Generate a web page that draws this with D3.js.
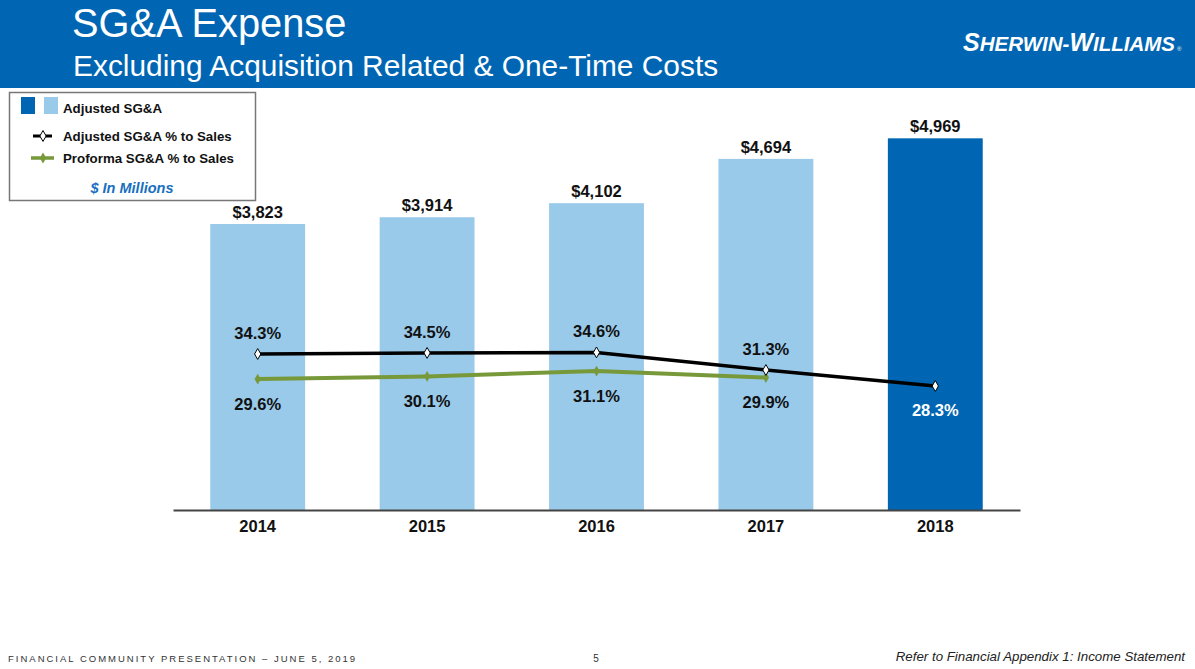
<!DOCTYPE html>
<html>
<head>
<meta charset="utf-8">
<script src="https://cdn.jsdelivr.net/npm/d3@7"></script>
<style>
  body { margin: 0; background: #fff; }
  svg { display: block; font-family: "Liberation Sans", Arial, sans-serif; }
</style>
</head>
<body>
<div class="chart"></div>
<script>
// chart data
var years = ["2014", "2015", "2016", "2017", "2018"];
var sgaValues = [3823, 3914, 4102, 4694, 4969];
var sgaLabels = ["$3,823", "$3,914", "$4,102", "$4,694", "$4,969"];
var adjustedPct = [34.3, 34.5, 34.6, 31.3, 28.3];
var proformaYears = ["2014", "2015", "2016", "2017"];
var proformaPct = [29.6, 30.1, 31.1, 29.9];

var W = 1195, H = 669;
var lightBlue = "#99caea", darkBlue = "#0066b3", green = "#77993a";

var svg = d3.select(".chart").append("svg")
  .attr("width", W)
  .attr("height", H);

// header band
svg.append("rect").attr("x", 0).attr("y", 0).attr("width", W).attr("height", 88).attr("fill", darkBlue);
svg.append("text").attr("x", 72).attr("y", 37).attr("fill", "#fff")
  .attr("font-size", 39.8).text("SG&A Expense");
svg.append("text").attr("x", 73).attr("y", 76).attr("fill", "#fff")
  .attr("font-size", 29.9).text("Excluding Acquisition Related & One-Time Costs");

// logo text
var logo = svg.append("text").attr("x", 1175).attr("y", 51).attr("text-anchor", "end")
  .attr("fill", "#fff").attr("font-weight", "bold").attr("font-style", "italic");
logo.append("tspan").attr("font-size", 25).text("S");
logo.append("tspan").attr("font-size", 20.5).text("HERWIN-");
logo.append("tspan").attr("font-size", 25).text("W");
logo.append("tspan").attr("font-size", 20.5).text("ILLIAMS");
svg.append("text").attr("x", 1177).attr("y", 51).attr("fill", "#fff")
  .attr("font-size", 6).text("®");

// scales
var x = d3.scaleBand().domain(years).range([173, 1020]).paddingInner(0.44).paddingOuter(0.22);
var y = d3.scaleLinear().domain([0, 5000]).range([510, 136]);
var yp = d3.scaleLinear().domain([28.3, 34.3]).range([386, 354]);

// bars
svg.selectAll("rect.bar").data(sgaValues).enter().append("rect")
  .attr("class", "bar")
  .attr("x", function(d, i) { return x(years[i]); })
  .attr("y", function(d) { return y(d); })
  .attr("width", x.bandwidth())
  .attr("height", function(d) { return y(0) - y(d); })
  .attr("fill", function(d, i) { return i == 4 ? darkBlue : lightBlue; });

svg.selectAll("text.val").data(sgaValues).enter().append("text")
  .attr("class", "val")
  .attr("x", function(d, i) { return x(years[i]) + x.bandwidth() / 2; })
  .attr("y", function(d) { return y(d) - 6; })
  .attr("text-anchor", "middle").attr("font-weight", "bold").attr("font-size", 16.5)
  .attr("fill", "#111")
  .text(function(d, i) { return sgaLabels[i]; });

// x axis
var axis = svg.append("g").attr("transform", "translate(0,510)")
  .call(d3.axisBottom(x).tickSize(0).tickPadding(10));
axis.select(".domain").attr("stroke", "#444").attr("stroke-width", 2);
axis.selectAll("text").attr("font-size", 16.5).attr("font-weight", "bold").attr("fill", "#111")
  .attr("font-family", "Liberation Sans, Arial, sans-serif");

function cx(yr) { return x(yr) + x.bandwidth() / 2; }
var diamond = d3.symbol().type(d3.symbolDiamond).size(34);

// proforma line (green)
var line = d3.line().x(function(d) { return cx(d[0]); }).y(function(d) { return yp(d[1]); });
var proData = proformaYears.map(function(yr, i) { return [yr, proformaPct[i]]; });
svg.append("path").datum(proData).attr("d", line)
  .attr("fill", "none").attr("stroke", green).attr("stroke-width", 4);
svg.selectAll("path.gm").data(proData).enter().append("path")
  .attr("class", "gm").attr("d", diamond)
  .attr("transform", function(d) { return "translate(" + cx(d[0]) + "," + yp(d[1]) + ")"; })
  .attr("fill", green);

// adjusted line (black)
var adjData = years.map(function(yr, i) { return [yr, adjustedPct[i]]; });
svg.append("path").datum(adjData).attr("d", line)
  .attr("fill", "none").attr("stroke", "#000").attr("stroke-width", 3.5);
svg.selectAll("path.bm").data(adjData).enter().append("path")
  .attr("class", "bm").attr("d", diamond)
  .attr("transform", function(d) { return "translate(" + cx(d[0]) + "," + yp(d[1]) + ")"; })
  .attr("fill", "#fff").attr("stroke", "#000").attr("stroke-width", 1);

// percent labels
svg.selectAll("text.adj").data(adjData).enter().append("text")
  .attr("class", "adj")
  .attr("x", function(d) { return cx(d[0]); })
  .attr("y", function(d, i) { return i == 4 ? yp(d[1]) + 30 : yp(d[1]) - 15; })
  .attr("text-anchor", "middle").attr("font-weight", "bold").attr("font-size", 16.5)
  .attr("fill", function(d, i) { return i == 4 ? "#fff" : "#111"; })
  .text(function(d) { return d[1].toFixed(1) + "%"; });

svg.selectAll("text.pro").data(proData).enter().append("text")
  .attr("class", "pro")
  .attr("x", function(d) { return cx(d[0]); })
  .attr("y", function(d) { return yp(d[1]) + 31; })
  .attr("text-anchor", "middle").attr("font-weight", "bold").attr("font-size", 16.5)
  .attr("fill", "#111")
  .text(function(d) { return d[1].toFixed(1) + "%"; });

// legend
var lg = svg.append("g");
lg.append("rect").attr("x", 9.5).attr("y", 92.5).attr("width", 246).attr("height", 108)
  .attr("fill", "#fff").attr("stroke", "#777").attr("stroke-width", 1.5);
lg.append("rect").attr("x", 21).attr("y", 97).attr("width", 14).attr("height", 17).attr("fill", darkBlue);
lg.append("rect").attr("x", 44).attr("y", 97).attr("width", 14).attr("height", 17).attr("fill", lightBlue);
lg.append("text").attr("x", 63).attr("y", 113).attr("font-size", 13.3).attr("font-weight", "bold")
  .attr("fill", "#111").text("Adjusted SG&A");
lg.append("line").attr("x1", 33).attr("x2", 52).attr("y1", 136).attr("y2", 136)
  .attr("stroke", "#000").attr("stroke-width", 3);
lg.append("path").attr("d", diamond).attr("transform", "translate(43,136)")
  .attr("fill", "#fff").attr("stroke", "#000");
lg.append("text").attr("x", 63).attr("y", 141).attr("font-size", 13.3).attr("font-weight", "bold")
  .attr("fill", "#111").text("Adjusted SG&A % to Sales");
lg.append("line").attr("x1", 31).attr("x2", 54).attr("y1", 158).attr("y2", 158)
  .attr("stroke", green).attr("stroke-width", 3.5);
lg.append("path").attr("d", diamond).attr("transform", "translate(43,158)").attr("fill", green);
lg.append("text").attr("x", 63).attr("y", 163).attr("font-size", 13.3).attr("font-weight", "bold")
  .attr("fill", "#111").text("Proforma SG&A % to Sales");
lg.append("text").attr("x", 132).attr("y", 193).attr("text-anchor", "middle")
  .attr("font-size", 14.5).attr("font-weight", "bold").attr("font-style", "italic")
  .attr("fill", "#1a6fc0").text("$ In Millions");

// footer
svg.append("text").attr("x", 8).attr("y", 662).attr("font-size", 9.5).attr("letter-spacing", 2)
  .attr("fill", "#333").text("FINANCIAL COMMUNITY PRESENTATION – JUNE 5, 2019");
svg.append("text").attr("x", 596).attr("y", 662).attr("text-anchor", "middle").attr("font-size", 10)
  .attr("fill", "#333").text("5");
svg.append("text").attr("x", 1185).attr("y", 661).attr("text-anchor", "end").attr("font-size", 13.3)
  .attr("font-style", "italic").attr("fill", "#222").text("Refer to Financial Appendix 1: Income Statement");
</script>
</body>
</html>
